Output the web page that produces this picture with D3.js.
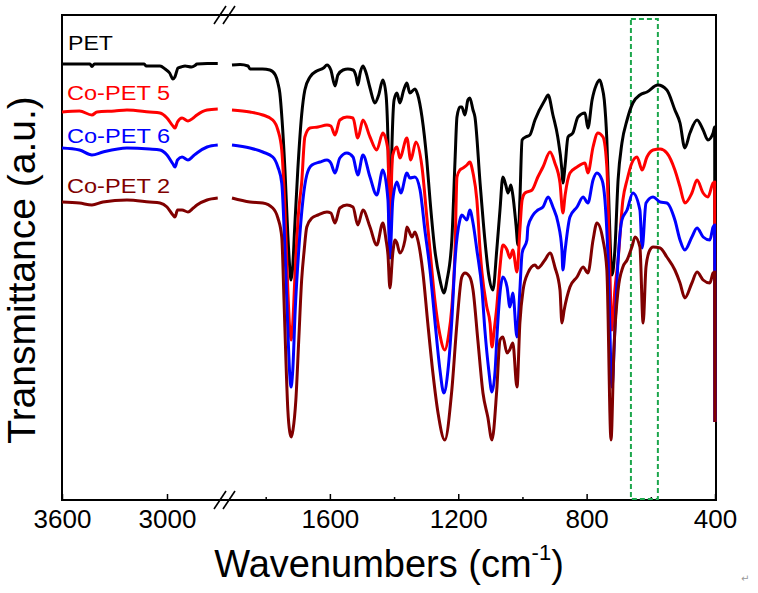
<!DOCTYPE html>
<html><head><meta charset="utf-8">
<script src="https://cdn.jsdelivr.net/npm/d3@7"></script>
<style>html,body{margin:0;padding:0;background:#fff;}svg{display:block;}</style>
</head><body>
<script>
// ---- data (wavenumber cm-1, transmittance a.u.) ----
const seriesNames = ["PET", "Co-PET 5", "Co-PET 6", "Co-PET 2"];
const seriesColors = ["#000000", "#ff0000", "#0000ff", "#800000"];

const PET = [[3600,436],[3500,436],[3440,436],[3429,433.5],[3415,436],[3300,436],[3130,436],[3120,434],[3040,434],[3011,431],[2985,427],[2966,421],[2955,423],[2937,432],[2920,433],[2897,434],[2860,433],[2840,434.5],[2829,436],[2770,436.5],[2710,436.5],
[1905,435],[1880,435.5],[1855,434],[1849,431],[1810,431],[1787,430],[1770,425],[1762,417],[1756,407],[1749,380],[1740,330],[1731,265],[1725,232],[1721,220],[1716,232],[1710,270],[1700,330],[1688,385],[1678,410],[1662,423],[1641,429],[1620,432],[1609,435],[1597,430],[1584,414],[1575,425],[1559,430],[1544,431],[1528,430],[1518,423],[1513,415],[1505,428],[1497,434],[1488,428],[1475,412],[1460,397],[1448,405],[1435,420],[1425,405],[1419,360],[1413,255],[1407,350],[1400,400],[1391,407],[1382,397],[1370,410],[1360,417],[1351,407],[1335,411],[1326,405],[1313,383],[1298,340],[1288,300],[1273,250],[1257,220],[1245,207],[1235,220],[1220,260],[1210,340],[1204,383],[1195,393],[1189,393],[1179,385],[1170,400],[1164,402],[1154,390],[1148,383],[1132,317],[1117,260],[1105,225],[1092,210],[1080,250],[1070,290],[1061,323],[1052,315],[1045,307],[1036,315],[1030,305],[1020,275],[1014,255],[1008,300],[1001,360],[990,363],[977,365],[961,380],[930,400],[920,405],[905,385],[890,363],[877,330],[874,317],[867,335],[858,363],[843,367],[827,383],[805,387],[796,372],[783,400],[770,415],[759,420],[752,413],[745,400],[737,360],[730,290],[721,225],[712,250],[702,320],[690,357],[674,380],[656,397],[634,405],[612,408],[578,415],[550,410],[525,390],[509,377],[494,352],[478,367],[456,380],[437,370],[422,360],[406,367],[401,373],[400,78]];

const CoPET5 = [[3600,388],[3500,389],[3429,385],[3400,388],[3300,389],[3229,390],[3100,388],[3040,387],[3000,382],[2966,374],[2954,372],[2940,378],[2914,382],[2880,379],[2850,382],[2829,385],[2771,390],[2710,391],
[1905,390],[1849,388],[1809,385],[1778,380],[1762,370],[1750,350],[1740,290],[1731,210],[1725,170],[1721,160],[1716,175],[1708,230],[1697,290],[1688,317],[1678,363],[1662,372],[1637,373],[1609,375],[1597,374],[1584,365],[1569,380],[1547,383],[1528,382],[1513,362],[1497,380],[1475,363],[1454,350],[1435,367],[1419,350],[1413,250],[1407,330],[1404,345],[1391,353],[1382,342],[1360,362],[1348,340],[1332,358],[1313,333],[1298,283],[1288,250],[1273,200],[1257,165],[1242,150],[1230,165],[1220,193],[1210,250],[1204,323],[1195,330],[1185,332],[1173,335],[1164,338],[1154,327],[1142,300],[1132,250],[1126,227],[1111,193],[1101,177],[1095,153],[1088,170],[1080,193],[1070,233],[1061,255],[1048,250],[1039,242],[1030,250],[1017,228],[1008,270],[1001,300],[992,307],[970,310],[952,323],[936,333],[914,348],[899,337],[883,317],[874,287],[867,305],[852,327],[830,333],[805,337],[796,327],[780,353],[765,367],[749,363],[737,333],[730,260],[721,170],[712,210],[702,240],[687,300],[674,320],[659,337],[643,343],[627,330],[612,343],[593,350],[571,351],[550,347],[525,330],[509,313],[494,297],[472,307],[456,320],[437,307],[422,303],[406,317],[401,318],[400,78]];

const CoPET6 = [[3600,352],[3500,350],[3429,345],[3366,348],[3229,352],[3100,351],[3040,350],[3000,345],[2966,336],[2954,333],[2940,340],[2914,343],[2880,340],[2850,344],[2829,347],[2771,353],[2710,355],
[1905,355],[1849,352],[1809,348],[1778,343],[1762,333],[1750,317],[1740,250],[1731,170],[1725,125],[1721,113],[1716,128],[1708,190],[1697,250],[1684,300],[1672,325],[1656,335],[1631,338],[1609,340],[1597,337],[1584,327],[1569,342],[1547,347],[1528,343],[1513,325],[1497,345],[1475,323],[1454,305],[1435,330],[1419,300],[1413,242],[1404,300],[1391,318],[1379,307],[1360,327],[1351,322],[1335,323],[1319,310],[1304,270],[1288,230],[1273,180],[1257,130],[1245,107],[1232,130],[1220,180],[1210,240],[1195,280],[1189,285],[1173,280],[1164,290],[1154,277],[1142,250],[1126,210],[1117,170],[1105,130],[1095,108],[1085,130],[1080,160],[1070,207],[1061,223],[1048,213],[1039,193],[1030,207],[1017,163],[1008,210],[1001,247],[986,260],[983,273],[967,285],[952,290],[936,293],[920,303],[905,293],[889,277],[877,250],[874,230],[867,250],[852,283],[830,293],[811,303],[796,297],[780,320],[768,327],[752,320],[743,300],[733,240],[721,113],[712,170],[702,240],[690,280],[674,290],[656,307],[634,290],[627,252],[615,297],[593,303],[571,298],[550,297],[525,280],[509,260],[494,250],[472,263],[456,272],[437,263],[416,260],[406,273],[401,275],[400,78]];

const CoPET2 = [[3600,298],[3500,297],[3429,295],[3366,298],[3229,300],[3100,298],[3040,297],[3000,293],[2966,285],[2954,283],[2940,290],[2914,290],[2880,288],[2850,292],[2829,295],[2771,300],[2710,302],
[1905,302],[1849,298],[1809,297],[1778,292],[1762,282],[1750,263],[1743,200],[1737,140],[1731,90],[1725,68],[1720,63],[1715,70],[1706,100],[1697,160],[1688,220],[1680,250],[1672,273],[1656,282],[1637,285],[1609,288],[1597,287],[1584,277],[1569,292],[1547,295],[1528,293],[1513,275],[1497,290],[1475,273],[1454,255],[1435,277],[1425,260],[1419,245],[1413,212],[1404,247],[1397,260],[1391,257],[1382,247],[1366,260],[1360,273],[1344,263],[1335,268],[1326,260],[1310,227],[1295,177],[1279,127],[1263,87],[1242,60],[1220,110],[1204,177],[1189,223],[1179,227],[1164,223],[1154,210],[1139,160],[1123,107],[1108,83],[1095,60],[1080,110],[1070,160],[1061,163],[1048,147],[1040,150],[1030,157],[1017,113],[1008,177],[998,210],[983,227],[961,235],[952,232],[930,240],[914,247],[899,233],[883,210],[877,177],[870,190],[852,213],[830,223],[811,233],[796,227],[780,260],[768,277],[749,260],[737,230],[724,60],[715,150],[702,210],[687,233],[674,240],[659,253],[649,263],[634,253],[624,177],[615,233],[603,250],[593,253],[571,252],[550,243],[525,230],[509,217],[494,202],[472,217],[456,228],[437,220],[416,217],[406,227],[401,228],[400,78]];

const allSeries = [PET, CoPET5, CoPET6, CoPET2];

const majorTicksLeft = [3600, 3000];
const majorTicksRight = [1600, 1200, 800, 400];
const minorTicksRight = [1800, 1400, 1000, 600];
const breakAt = 2000;
const highlightBand = [662, 578];   // green dashed box (cm-1)

// ---- layout ----
const W = 758, H = 593;
const plot = {left: 62, right: 716, top: 15, bottom: 500};
const svg = d3.select("body").append("svg").attr("width", W).attr("height", H);

const xLeft = d3.scaleLinear().domain([3600, 2700]).range([62, 219.5]);
const xRight = d3.scaleLinear().domain([1905, 400]).range([232, 715]);
const y = d3.scaleLinear().domain([0, 485]).range([500, 15]);

// frame
svg.append("rect").attr("x", plot.left).attr("y", plot.top)
  .attr("width", plot.right - plot.left).attr("height", plot.bottom - plot.top)
  .attr("fill", "none").attr("stroke", "#000").attr("stroke-width", 2);

// axes (ticks inward)
function styleAxis(g) {
  g.select(".domain").remove();
  g.selectAll("line").attr("stroke", "#000").attr("stroke-width", 1.5);
  g.selectAll("text").attr("font-family", "'Liberation Sans', Arial, sans-serif")
    .attr("font-size", 26).attr("fill", "#000");
}
svg.append("g").attr("transform", `translate(0,${plot.bottom})`)
  .call(d3.axisBottom(xLeft).tickValues(majorTicksLeft).tickSize(-6).tickPadding(10).tickFormat(d3.format("d")))
  .call(styleAxis);
svg.append("g").attr("transform", `translate(0,${plot.bottom})`)
  .call(d3.axisBottom(xRight).tickValues(majorTicksRight).tickSize(-6).tickPadding(10).tickFormat(d3.format("d")))
  .call(styleAxis);
svg.append("g").attr("transform", `translate(0,${plot.bottom})`)
  .call(d3.axisBottom(xRight).tickValues(minorTicksRight).tickSize(-3).tickFormat(""))
  .call(styleAxis);

// break marks
[plot.top, plot.bottom].forEach(yy => {
  const cx = 225;
  [cx - 5, cx + 4].forEach(bx => {
    svg.append("line").attr("x1", bx - 6).attr("y1", yy + 9).attr("x2", bx + 6).attr("y2", yy - 9)
      .attr("stroke", "#000").attr("stroke-width", 1.6);
  });
});

// highlight box
svg.append("rect")
  .attr("x", xRight(highlightBand[0])).attr("y", 19)
  .attr("width", xRight(highlightBand[1]) - xRight(highlightBand[0])).attr("height", 480)
  .attr("fill", "none").attr("stroke", "#1ca64c").attr("stroke-width", 2)
  .attr("stroke-dasharray", "5,3");

// spectra
const lineL = d3.line().x(d => xLeft(d[0])).y(d => y(d[1])).curve(d3.curveMonotoneX);
const lineR = d3.line().x(d => xRight(d[0])).y(d => y(d[1])).curve(d3.curveMonotoneX);
allSeries.forEach((s, i) => {
  const left = s.filter(d => d[0] > breakAt);
  const right = s.filter(d => d[0] <= breakAt);
  svg.append("path").attr("d", lineL(left)).attr("fill", "none")
    .attr("stroke", seriesColors[i]).attr("stroke-width", 3).attr("stroke-linejoin", "round");
  svg.append("path").attr("d", lineR(right)).attr("fill", "none")
    .attr("stroke", seriesColors[i]).attr("stroke-width", 3).attr("stroke-linejoin", "round");
});

// series labels
const labelPos = [[68, 50, 45], [67, 100, 103], [67, 143, 103], [67, 193, 103]];
seriesNames.forEach((n, i) => {
  svg.append("text").attr("x", labelPos[i][0]).attr("y", labelPos[i][1])
    .attr("font-family", "'Liberation Sans', Arial, sans-serif").attr("font-size", 20)
    .attr("textLength", labelPos[i][2]).attr("lengthAdjust", "spacingAndGlyphs")
    .attr("fill", seriesColors[i]).text(n);
});

// axis titles
svg.append("text").attr("transform", "translate(35,270) rotate(-90)")
  .attr("text-anchor", "middle").attr("font-family", "'Liberation Sans', Arial, sans-serif")
  .attr("font-size", 39).text("Transmittance (a.u.)");

const xt = svg.append("text").attr("x", 389).attr("y", 577).attr("text-anchor", "middle")
  .attr("font-family", "'Liberation Sans', Arial, sans-serif").attr("font-size", 38);
xt.append("tspan").text("Wavenumbers (cm");
xt.append("tspan").attr("font-size", 22).attr("dy", -17).text("-1");
xt.append("tspan").attr("dy", 17).text(")");

// paragraph mark
svg.append("text").attr("x", 741).attr("y", 582).attr("font-size", 10)
  .attr("font-family", "'DejaVu Sans', sans-serif").attr("fill", "#999").text("↵");
</script>
</body></html>
